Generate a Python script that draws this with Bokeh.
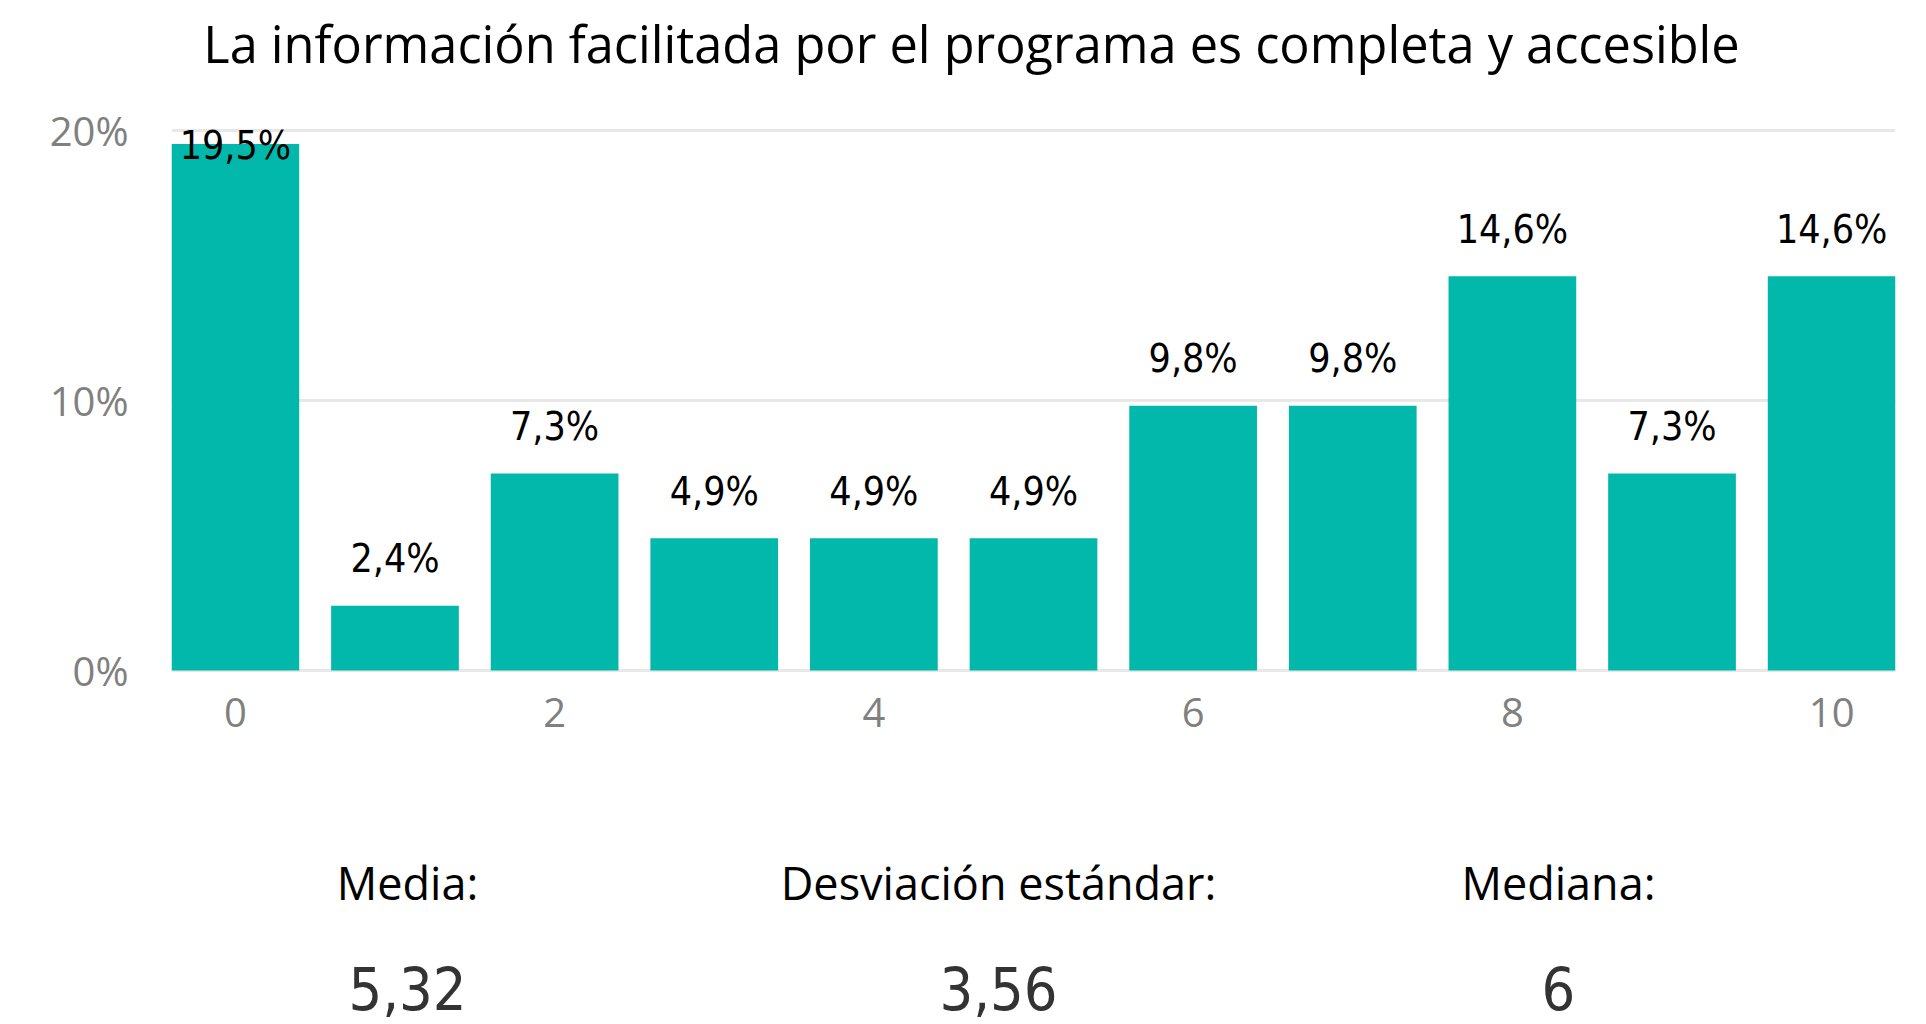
import numpy as np
from bokeh.plotting import figure
from bokeh.layouts import column
from bokeh.models import Range1d, FixedTicker, PrintfTickFormatter, Label, ColumnDataSource
from bokeh.core.properties import value
from bokeh.embed import file_html
from bokeh.resources import INLINE

# ---- data ----
title_text = "La información facilitada por el programa es completa y accesible"
scores = [0, 1, 2, 3, 4, 5, 6, 7, 8, 9, 10]
percentages = [19.5, 2.4, 7.3, 4.9, 4.9, 4.9, 9.8, 9.8, 14.6, 7.3, 14.6]
x_tick_values = [0, 2, 4, 6, 8, 10]
y_tick_values = [0, 10, 20]
stat_names = ["Media:", "Desviación estándar:", "Mediana:"]
stat_values = ["5,32", "3,56", "6"]

# ---- styling ----
BAR_COLOR = "#01B8AA"
GRID_COLOR = "#e8e8e8"
TICK_COLOR = "#808080"
SANS = "Open Sans"
NUM = "DejaVu Sans Condensed"

labels = [f"{v:.1f}".replace(".", ",") + "%" for v in percentages]
label_y = np.minimum(np.array(percentages) + 1.74, 19.43)

src = ColumnDataSource(dict(x=scores, top=percentages, lbl=labels, ly=label_y))

W = 1910
H1 = 780
H2 = 244
LEFT = 171
RIGHT_END = 1895

p = figure(width=W, height=H1,
           x_range=Range1d(-0.4, 10.4), y_range=Range1d(-0.11, 24.44),
           output_backend="svg", toolbar_location=None,
           min_border_left=LEFT, min_border_right=W - RIGHT_END,
           min_border_top=10, min_border_bottom=107)
p.outline_line_color = None

p.vbar(x="x", top="top", width=0.8, bottom=0, source=src,
       fill_color=BAR_COLOR, line_color=None)

p.text(x="x", y="ly", text="lbl", source=src,
       text_align="center", text_baseline="middle",
       text_font=value(NUM), text_font_size="39px", text_color="#000000")

# grid
p.xgrid.visible = False
p.ygrid.ticker = FixedTicker(ticks=y_tick_values)
p.ygrid.grid_line_color = GRID_COLOR
p.ygrid.grid_line_width = 3

# axes
for ax in (p.xaxis[0], p.yaxis[0]):
    ax.axis_line_color = None
    ax.major_tick_line_color = None
    ax.minor_tick_line_color = None
    ax.major_tick_in = 0
    ax.major_tick_out = 0
    ax.minor_tick_in = 0
    ax.minor_tick_out = 0
    ax.major_label_text_color = TICK_COLOR
    ax.major_label_text_font = SANS
    ax.major_label_text_font_size = "40px"

p.xaxis[0].ticker = FixedTicker(ticks=x_tick_values)
p.xaxis[0].major_label_standoff = 24
p.yaxis[0].ticker = FixedTicker(ticks=y_tick_values)
p.yaxis[0].formatter = PrintfTickFormatter(format="%d%%")
p.yaxis[0].major_label_standoff = 43

# title (screen units relative to frame: x from left, y from bottom)
p.add_layout(Label(x=800, y=630, x_units="screen", y_units="screen",
                   text=title_text, text_align="center", text_baseline="middle",
                   text_font=SANS, text_font_size="50.5px", text_color="#000000"))

# ---- statistics panel (x range in page pixels, frame aligned with chart) ----
p2 = figure(width=W, height=H2, x_range=Range1d(LEFT, RIGHT_END), y_range=Range1d(0, H2),
            output_backend="svg", toolbar_location=None,
            min_border_left=LEFT, min_border_right=W - RIGHT_END,
            min_border_top=0, min_border_bottom=0)
p2.axis.visible = False
p2.grid.visible = False
p2.outline_line_color = None

stat_x = [407, 998, 1558]
stat_src = ColumnDataSource(dict(x=stat_x, name=stat_names, val=stat_values,
                                 yn=[142] * 3, yv=[36] * 3))
p2.text(x="x", y="yn", text="name", source=stat_src, text_align="center",
        text_baseline="middle", text_font=value(SANS), text_font_size="45px",
        text_color="#000000")
p2.text(x="x", y="yv", text="val", source=stat_src, text_align="center",
        text_baseline="middle", text_font=value(NUM), text_font_size="59px",
        text_color="#333333")

layout = column(p, p2, spacing=0)
open("out.html", "w").write(file_html(layout, INLINE))
